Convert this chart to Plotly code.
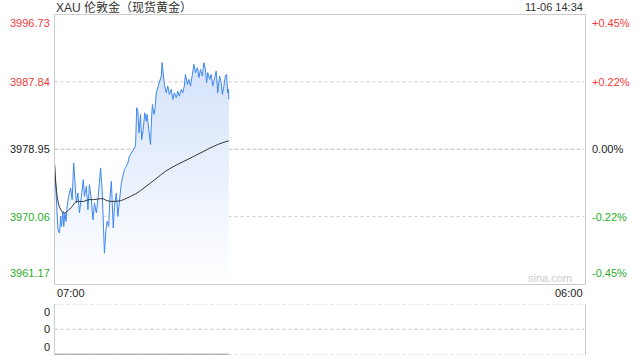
import plotly.graph_objects as go
from datetime import datetime, timedelta

# ---------------- data ----------------
title_text = "XAU 伦敦金（现货黄金）"
stamp_text = "11-06 14:34"
trade_date = "2025-11-06"
session_start = "07:00"
session_end = "06:00"   # next day
base_price = 3978.95
price_ticks = [3996.73, 3987.84, 3978.95, 3970.06, 3961.17]

price_times = [
    "07:00", "07:04", "07:09", "07:13", "07:16", "07:18", "07:22", "07:24", "07:27", "07:30",
    "07:33", "07:37", "07:42", "07:46", "07:50", "07:54", "07:57", "08:01", "08:05", "08:10",
    "08:15", "08:18", "08:23", "08:27", "08:31", "08:36", "08:40", "08:44", "08:49", "08:53",
    "09:00", "09:04", "09:07", "09:10", "09:14", "09:17", "09:21", "09:24", "09:28", "09:30",
    "09:33", "09:36", "09:41", "09:45", "09:49", "09:54", "09:58", "10:02", "10:07", "10:11",
    "10:15", "10:20", "10:25", "10:31", "10:34", "10:37", "10:40", "10:44", "10:47", "10:51",
    "10:55", "10:59", "11:01", "11:06", "11:10", "11:13", "11:15", "11:19", "11:22", "11:25",
    "11:29", "11:33", "11:38", "11:40", "11:43", "11:46", "11:51", "11:55", "11:59", "12:04",
    "12:08", "12:12", "12:17", "12:21", "12:25", "12:30", "12:34", "12:38", "12:41", "12:46",
    "12:50", "12:54", "12:59", "13:03", "13:07", "13:12", "13:16", "13:20", "13:25", "13:29",
    "13:33", "13:36", "13:39", "13:44", "13:48", "13:52", "13:57", "14:01", "14:05", "14:10",
    "14:14", "14:17", "14:21", "14:25", "14:28", "14:31", "14:33", "14:34",
]
price_values = [
    3977.15, 3972.30, 3968.33, 3967.89, 3970.09, 3968.76, 3970.75, 3968.76, 3970.54, 3969.42,
    3971.41, 3972.73, 3973.84, 3972.30, 3977.15, 3974.05, 3971.86, 3973.18, 3970.54, 3972.73,
    3974.94, 3972.73, 3974.05, 3970.97, 3974.28, 3972.30, 3969.65, 3971.86, 3970.54, 3972.30,
    3976.49, 3973.62, 3970.09, 3965.24, 3968.33, 3969.42, 3968.76, 3972.30, 3974.72, 3972.30,
    3968.55, 3971.41, 3973.18, 3970.09, 3971.86, 3974.50, 3975.38, 3976.26, 3976.70, 3977.15,
    3978.02, 3978.47, 3978.91, 3979.35, 3984.43, 3983.98, 3981.12, 3983.54, 3980.23, 3981.56,
    3983.77, 3982.65, 3983.54, 3981.12, 3979.57, 3983.32, 3984.86, 3983.54, 3984.43, 3986.41,
    3987.07, 3987.95, 3988.61, 3990.38, 3988.61, 3987.51, 3986.41, 3987.28, 3986.19, 3986.85,
    3985.53, 3986.41, 3985.75, 3986.62, 3985.96, 3986.85, 3986.41, 3987.28, 3988.83, 3987.51,
    3988.17, 3987.28, 3988.83, 3990.16, 3989.06, 3989.72, 3988.40, 3989.49, 3988.61, 3990.38,
    3989.49, 3987.73, 3989.06, 3988.17, 3988.83, 3987.28, 3988.40, 3989.27, 3986.41, 3988.61,
    3987.73, 3986.19, 3987.28, 3988.61, 3988.83, 3986.41, 3986.85, 3985.53,
]

avg_times = [
    "07:00", "07:07", "07:14", "07:24", "07:33", "07:46", "07:55", "08:03", "08:16", "08:29",
    "08:42", "09:00", "09:08", "09:17", "09:30", "09:52", "10:09", "10:27", "10:35", "10:53",
    "11:10", "11:27", "11:49", "12:11", "12:37", "13:03", "13:29", "13:55", "14:17", "14:34",
]
avg_values = [
    3977.15, 3972.73, 3971.20, 3970.54, 3970.75, 3971.41, 3971.99, 3972.07, 3972.07, 3972.30,
    3972.30, 3972.43, 3972.39, 3972.16, 3972.07, 3972.16, 3972.52, 3972.96, 3973.18, 3973.84,
    3974.50, 3975.17, 3976.04, 3976.70, 3977.36, 3978.02, 3978.69, 3979.35, 3979.80, 3980.06,
]

vol_times = ["07:00", "14:34"]
vol_values = [0, 0]
vol_tick_labels = ["0", "0", "0"]
vol_tick_vals = [1, 0.5, 0]

# ---------------- helpers ----------------
t0 = datetime.strptime(trade_date + " " + session_start, "%Y-%m-%d %H:%M")


def to_dt(hhmm):
    d = datetime.strptime(trade_date + " " + hhmm, "%Y-%m-%d %H:%M")
    if d < t0:
        d += timedelta(days=1)
    return d


x_start = t0
x_end = to_dt(session_end)

FONT = "Liberation Sans, Arial, Noto Sans CJK SC, sans-serif"
RED = "#f23b3b"
GREEN = "#2aad2a"
BLACK = "#222222"
GRID = "#c8c8c8"
BORDER = "#cccccc"

fig = go.Figure()

fig.add_trace(go.Scatter(
    x=[to_dt(t) for t in price_times], y=price_values,
    mode="lines", line=dict(color="#3f86ef", width=1),
    fill="tozeroy",
    fillgradient=dict(type="vertical",
                      colorscale=[[0, "rgba(255,255,255,1)"], [1, "rgba(212,226,250,1)"]],
                      start=price_ticks[-1], stop=max(price_values)),
    hoverinfo="skip", showlegend=False, xaxis="x", yaxis="y",
))
fig.add_trace(go.Scatter(
    x=[to_dt(t) for t in avg_times], y=avg_values,
    mode="lines", line=dict(color="#333333", width=1, shape="spline"),
    hoverinfo="skip", showlegend=False, xaxis="x", yaxis="y",
))
fig.add_trace(go.Scatter(
    x=[to_dt(t) for t in vol_times], y=vol_values,
    mode="lines", line=dict(color="#777777", width=1.5),
    hoverinfo="skip", showlegend=False, xaxis="x2", yaxis="y2",
))

W, H = 640, 360
L, R = 54.5, 584.5
main_top, main_bot = 14.5, 284
vol_top, vol_bot = 304, 354.5

fig.update_layout(
    width=W, height=H, margin=dict(l=0, r=0, t=0, b=0),
    paper_bgcolor="white", plot_bgcolor="white",
    font=dict(family=FONT, size=11, color="#333"),
    xaxis=dict(domain=[L / W, R / W], range=[x_start, x_end], showgrid=False, zeroline=False,
               showticklabels=False, showline=True, mirror=True, linecolor=BORDER, linewidth=1,
               anchor="y"),
    yaxis=dict(domain=[1 - main_bot / H, 1 - main_top / H], range=[price_ticks[-1], price_ticks[0]],
               showgrid=False, zeroline=False, showticklabels=False, showline=True, mirror=True,
               linecolor=BORDER, linewidth=1, anchor="x"),
    xaxis2=dict(domain=[L / W, R / W], range=[x_start, x_end], showgrid=False, zeroline=False,
                showticklabels=False, showline=False, anchor="y2"),
    yaxis2=dict(domain=[1 - vol_bot / H, 1 - vol_top / H], range=[0, 1], showgrid=False,
                zeroline=False, showticklabels=False, showline=True, mirror=True,
                linecolor=BORDER, linewidth=1, anchor="x2"),
)

shapes = []
# main grid lines
for v in price_ticks[1:-1]:
    dash = "4px,2px" if v == base_price else "dot"
    col = "#bdbdbd" if v == base_price else GRID
    shapes.append(dict(type="line", xref="x domain", yref="y", x0=0, x1=1, y0=v, y1=v,
                       line=dict(color=col, width=1, dash=dash), layer="below"))
# volume grid lines
for v in vol_tick_vals:
    shapes.append(dict(type="line", xref="x2 domain", yref="y2", x0=0, x1=1, y0=v, y1=v,
                       line=dict(color=GRID, width=1, dash="dot"), layer="below"))
fig.update_layout(shapes=shapes)

ann = []
n = len(price_ticks)
for i, v in enumerate(price_ticks):
    if v > base_price + 1e-9:
        col = RED
    elif v < base_price - 1e-9:
        col = GREEN
    else:
        col = BLACK
    pct = (v / base_price - 1) * 100
    pct_txt = ("+" if pct > 0.0005 else "") + f"{pct:.2f}%"
    if abs(pct) < 0.005:
        pct_txt = "0.00%"
    ya = "top" if i == 0 else ("bottom" if i == n - 1 else "middle")
    yshift = -1 if i == 0 else (3 if i == n - 1 else 0)
    ann.append(dict(text=f"{v:.2f}", xref="paper", yref="y", x=51.5 / W, y=v, xanchor="right",
                    yanchor=ya, yshift=yshift, showarrow=False, font=dict(color=col, size=11)))
    ann.append(dict(text=pct_txt, xref="paper", yref="y", x=590 / W, y=v, xanchor="left",
                    yanchor=ya, yshift=yshift, showarrow=False, font=dict(color=col, size=11)))

for lab, v in zip(vol_tick_labels, vol_tick_vals):
    ya = "top" if v == max(vol_tick_vals) else ("bottom" if v == min(vol_tick_vals) else "middle")
    ann.append(dict(text=lab, xref="paper", yref="y2", x=51.5 / W, y=v, xanchor="right",
                    yanchor=ya, showarrow=False, font=dict(color=BLACK, size=11)))

ann.append(dict(text=session_start, xref="x", yref="paper", x=x_start, y=1 - 293 / H,
                xanchor="left", yanchor="middle", showarrow=False, font=dict(color=BLACK, size=11)))
ann.append(dict(text=session_end, xref="x", yref="paper", x=x_end, y=1 - 293 / H,
                xanchor="right", yanchor="middle", showarrow=False, font=dict(color=BLACK, size=11)))
ann.append(dict(text=title_text, xref="paper", yref="paper", x=54 / W, y=1 - 7 / H,
                xanchor="left", yanchor="middle", showarrow=False, font=dict(color="#333", size=12)))
ann.append(dict(text=stamp_text, xref="paper", yref="paper", x=585 / W, y=1 - 7 / H,
                xanchor="right", yanchor="middle", showarrow=False, font=dict(color="#333", size=11)))
ann.append(dict(text="sina.com", xref="paper", yref="paper", x=574 / W, y=1 - 278 / H,
                xanchor="right", yanchor="middle", showarrow=False, font=dict(color="#cccccc", size=11)))
fig.update_layout(annotations=ann)

fig.write_html("out.html")
